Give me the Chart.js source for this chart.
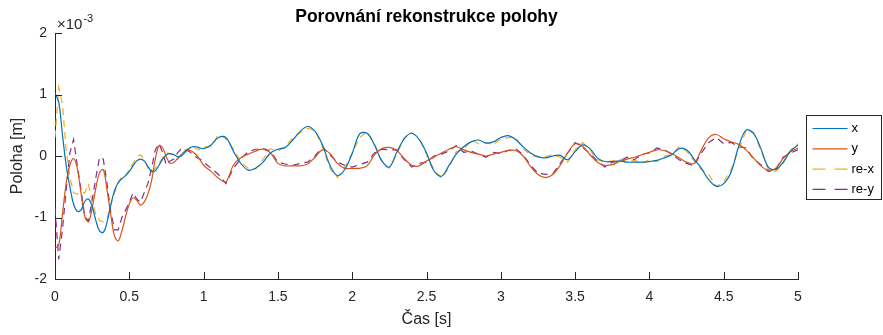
<!DOCTYPE html>
<html lang="cs">
<head>
<meta charset="utf-8">
<title>Porovnání rekonstrukce polohy</title>
<script src="https://cdn.jsdelivr.net/npm/chart.js@4.4.0/dist/chart.umd.min.js"></script>
<style>
  html, body { margin: 0; padding: 0; background: #fff; }
  #graf { display: block; }
</style>
</head>
<body>
<canvas id="graf" width="883" height="335"></canvas>
<script>
// cas [s] - do 1 s jemnejsi krok
const cas = [
  0, 0.025, 0.05, 0.075, 0.1, 0.125, 0.15, 0.175, 0.2, 0.225,
  0.25, 0.275, 0.3, 0.325, 0.35, 0.375, 0.4, 0.425, 0.45, 0.475,
  0.5, 0.525, 0.55, 0.575, 0.6, 0.625, 0.65, 0.675, 0.7, 0.725,
  0.75, 0.775, 0.8, 0.825, 0.85, 0.875, 0.9, 0.925, 0.95, 0.975, 1.0,
  1.05, 1.1, 1.15, 1.2, 1.25, 1.3, 1.35, 1.4, 1.45, 1.5,
  1.55, 1.6, 1.65, 1.7, 1.75, 1.8, 1.85, 1.9, 1.95, 2.0,
  2.05, 2.1, 2.15, 2.2, 2.25, 2.3, 2.35, 2.4, 2.45, 2.5,
  2.55, 2.6, 2.65, 2.7, 2.75, 2.8, 2.85, 2.9, 2.95, 3.0,
  3.05, 3.1, 3.15, 3.2, 3.25, 3.3, 3.35, 3.4, 3.45, 3.5,
  3.55, 3.6, 3.65, 3.7, 3.75, 3.8, 3.85, 3.9, 3.95, 4.0,
  4.05, 4.1, 4.15, 4.2, 4.25, 4.3, 4.35, 4.4, 4.45, 4.5,
  4.55, 4.6, 4.65, 4.7, 4.75, 4.8, 4.85, 4.9, 4.95, 5.0
];

// poloha v [m] x 1e-3
const polohaX = [
  1.02, 0.88, 0.35, -0.15, -0.5, -0.78, -0.9, -0.88, -0.74, -0.70,
  -0.82, -1.05, -1.22, -1.24, -1.08, -0.8, -0.57, -0.43, -0.37, -0.32,
  -0.25, -0.16, -0.08, -0.05, -0.08, -0.17, -0.25, -0.24, -0.15, -0.05,
  0.02, 0.04, 0.02, -0.01, 0.0, 0.06, 0.12, 0.15, 0.15, 0.13, 0.12,
  0.18, 0.3, 0.3, 0.08, -0.12, -0.23, -0.2, -0.1, 0.05, 0.11,
  0.14, 0.26, 0.4, 0.48, 0.4, 0.18, -0.15, -0.32, -0.22, 0.04,
  0.36, 0.37, 0.18, -0.08, -0.18, 0.06, 0.28, 0.37, 0.27, 0.05,
  -0.24, -0.33, -0.16, 0.03, 0.15, 0.23, 0.26, 0.21, 0.23, 0.3,
  0.33, 0.27, 0.15, 0.05, -0.01, -0.03, 0.0, 0.01, -0.06, 0.07,
  0.18, 0.12, -0.03, -0.09, -0.09, -0.08, -0.1, -0.1, -0.1, -0.09,
  -0.07, -0.03, 0.02, 0.12, 0.1, -0.05, -0.2, -0.39, -0.49, -0.45,
  -0.26, 0.15, 0.42, 0.37, 0.12, -0.18, -0.22, -0.1, 0.08, 0.18
];

const polohaY = [
  -1.5, -1.45, -0.95, -0.45, -0.15, -0.04, -0.2, -0.6, -0.98, -1.07,
  -0.85, -0.52, -0.27, -0.22, -0.55, -0.95, -1.3, -1.38, -1.22, -0.98,
  -0.78, -0.68, -0.72, -0.8, -0.75, -0.62, -0.4, -0.05, 0.17, 0.13,
  -0.02, -0.12, -0.1, -0.04, 0.02, 0.08, 0.1, 0.07, 0.02, -0.06, -0.15,
  -0.25, -0.36, -0.42, -0.15, -0.03, 0.03, 0.08, 0.11, 0.05, -0.12,
  -0.16, -0.16, -0.16, -0.13, -0.02, 0.1, 0.04, -0.12, -0.2, -0.2,
  -0.2, -0.16, 0.02, 0.12, 0.14, 0.09, -0.04, -0.15, -0.16, -0.08,
  -0.02, 0.05, 0.11, 0.15, 0.1, 0.06, 0.03, 0.0, 0.03, 0.06,
  0.09, 0.09, 0.0, -0.17, -0.3, -0.35, -0.3, -0.15, 0.05, 0.2,
  0.16, 0.02, -0.1, -0.15, -0.14, -0.09, -0.05, -0.02, 0.02, 0.06,
  0.1, 0.09, 0.04, -0.03, -0.1, -0.12, 0.1, 0.3, 0.35, 0.28,
  0.23, 0.19, 0.1, -0.03, -0.16, -0.23, -0.2, -0.04, 0.07, 0.13
];

// rekonstruovane polohy
const rekonX = [
  0.3, 1.12, 0.85, 0.1, -0.35, -0.6, -0.62, -0.58, -0.6, -0.45,
  -0.75, -0.95, -1.05, -1.07, -1.02, -0.8, -0.6, -0.45, -0.32, -0.32,
  -0.22, -0.12, -0.02, 0.02, -0.05, -0.2, -0.26, -0.2, -0.12, -0.02,
  0.05, 0.04, 0.0, -0.05, 0.02, 0.1, 0.12, 0.17, 0.12, 0.1, 0.15,
  0.15, 0.35, 0.28, 0.12, -0.1, -0.2, -0.21, -0.05, 0.12, 0.08,
  0.16, 0.3, 0.38, 0.45, 0.42, 0.15, -0.2, -0.35, -0.18, 0.05,
  0.3, 0.4, 0.2, -0.1, -0.2, 0.02, 0.3, 0.38, 0.3, 0.02,
  -0.22, -0.36, -0.2, 0.07, 0.1, 0.26, 0.2, 0.22, 0.18, 0.28,
  0.3, 0.3, 0.12, 0.02, -0.02, -0.01, 0.02, -0.02, -0.1, 0.1,
  0.22, 0.1, -0.06, -0.1, -0.08, -0.05, -0.1, -0.07, -0.12, -0.06,
  -0.09, 0.0, 0.02, 0.15, 0.08, -0.08, -0.22, -0.3, -0.5, -0.42,
  -0.22, 0.1, 0.4, 0.38, 0.1, -0.22, -0.25, -0.12, 0.1, 0.2
];

const rekonY = [
  -0.85, -1.68, -1.2, -0.55, 0.05, 0.27, -0.15, -0.55, -0.98, -1.06,
  -0.72, -0.35, -0.02, -0.05, -0.45, -0.9, -1.2, -1.2, -1.0, -0.88,
  -0.75, -0.6, -0.7, -0.75, -0.6, -0.45, -0.2, 0.1, 0.2, 0.05,
  -0.15, -0.08, -0.05, 0.05, 0.12, 0.1, 0.08, 0.03, -0.02, -0.05, -0.1,
  -0.2, -0.3, -0.45, -0.2, -0.05, 0.07, 0.11, 0.12, 0.08, -0.1,
  -0.13, -0.15, -0.12, -0.1, 0.0, 0.15, 0.02, -0.1, -0.15, -0.18,
  -0.14, -0.1, 0.05, 0.11, 0.1, 0.1, -0.06, -0.18, -0.12, -0.1,
  0.0, 0.03, 0.08, 0.17, 0.06, 0.08, 0.03, -0.02, 0.06, 0.04,
  0.09, 0.12, 0.02, -0.15, -0.28, -0.3, -0.29, -0.12, 0.05, 0.22,
  0.14, 0.04, -0.08, -0.18, -0.1, -0.08, -0.02, -0.06, 0.03, 0.05,
  0.13, 0.1, 0.03, -0.06, -0.12, -0.16, 0.05, 0.22, 0.3, 0.2,
  0.22, 0.15, 0.13, -0.05, -0.14, -0.25, -0.22, -0.02, 0.05, 0.1
];

const nazvy = ["x", "y", "re-x", "re-y"];
const barvy = ["#0072BD", "#D95319", "#EDB120", "#7E2F8E"];
const carkovani = [[], [], [7, 5], [7, 5]];
const carkovaniLegenda = [[], [], [13, 9], [13, 9]];

const pismo = "'Liberation Sans', Arial, Helvetica, sans-serif";
const barvaOs = "#262626";

function body(hodnoty) {
  return cas.map((t, i) => ({ x: t, y: hodnoty[i] }));
}

// osy ve stylu matlabu: ticky dovnitr, nadpisy, exponent a legenda vpravo
const matlabOsy = {
  id: "matlabOsy",
  afterDraw(chart) {
    const { ctx, chartArea: a, scales } = chart;
    ctx.save();

    ctx.strokeStyle = barvaOs;
    ctx.lineWidth = 1;
    ctx.setLineDash([]);
    ctx.beginPath();
    scales.x.ticks.forEach(t => {
      const px = Math.round(scales.x.getPixelForValue(t.value)) + 0.5;
      ctx.moveTo(px, a.bottom);
      ctx.lineTo(px, a.bottom - 7);
    });
    scales.y.ticks.forEach(t => {
      const py = Math.round(scales.y.getPixelForValue(t.value)) + 0.5;
      ctx.moveTo(a.left, py);
      ctx.lineTo(a.left + 7, py);
    });
    ctx.stroke();

    const stred = (a.left + a.right) / 2;

    ctx.fillStyle = "#000";
    ctx.font = "bold 17.5px " + pismo;
    ctx.textAlign = "center";
    ctx.textBaseline = "middle";
    ctx.fillText("Porovnání rekonstrukce polohy", stred, 17);

    ctx.fillStyle = barvaOs;
    ctx.font = "16px " + pismo;
    ctx.fillText("Čas [s]", stred, 320);

    ctx.save();
    ctx.translate(18, (a.top + a.bottom) / 2);
    ctx.rotate(-Math.PI / 2);
    ctx.fillText("Poloha [m]", 0, 0);
    ctx.restore();

    // exponent osy y
    ctx.textAlign = "left";
    ctx.textBaseline = "alphabetic";
    ctx.font = "15px " + pismo;
    ctx.fillText("\u00d710", a.left + 2, 29);
    const w = ctx.measureText("\u00d710").width;
    ctx.font = "11px " + pismo;
    ctx.fillText("-3", a.left + 3 + w, 22);

    // legenda
    const lx = 806.5, ly = 115.5, lw = 75, lh = 84;
    ctx.fillStyle = "#fff";
    ctx.fillRect(lx, ly, lw, lh);
    ctx.lineWidth = 1;
    ctx.strokeStyle = barvaOs;
    ctx.strokeRect(lx, ly, lw, lh);
    ctx.font = "13px " + pismo;
    ctx.textBaseline = "middle";
    chart.data.datasets.forEach((ds, i) => {
      const y = ly + 13 + i * 20.3;
      ctx.strokeStyle = ds.borderColor;
      ctx.lineWidth = ds.borderWidth;
      ctx.setLineDash(carkovaniLegenda[i]);
      ctx.beginPath();
      ctx.moveTo(lx + 6, y);
      ctx.lineTo(lx + 41, y);
      ctx.stroke();
      ctx.fillStyle = "#000";
      ctx.fillText(ds.label, lx + 45, y);
    });

    ctx.restore();
  }
};

const ctx = document.getElementById("graf").getContext("2d");

new Chart(ctx, {
  type: "line",
  data: {
    datasets: [polohaX, polohaY, rekonX, rekonY].map((hodnoty, i) => ({
      label: nazvy[i],
      data: body(hodnoty),
      borderColor: barvy[i],
      borderWidth: 1.2,
      borderDash: carkovani[i],
      pointRadius: 0,
      fill: false,
      tension: i < 2 ? 0.35 : 0
    }))
  },
  options: {
    responsive: false,
    animation: false,
    events: [],
    layout: { padding: { top: 33, right: 85, bottom: 0, left: 0 } },
    plugins: {
      legend: { display: false },
      title: { display: false },
      tooltip: { enabled: false }
    },
    scales: {
      x: {
        type: "linear",
        min: 0,
        max: 5,
        afterFit: s => { s.height = 56; },
        grid: { display: false, drawTicks: false },
        border: { display: true, color: barvaOs, width: 1 },
        ticks: {
          stepSize: 0.5,
          padding: 10,
          maxRotation: 0,
          autoSkip: false,
          color: barvaOs,
          font: { family: pismo, size: 14 },
          callback: v => String(Math.round(v * 10) / 10)
        }
      },
      y: {
        type: "linear",
        min: -2,
        max: 2,
        afterFit: s => { s.width = 55; },
        grid: { display: false, drawTicks: false },
        border: { display: true, color: barvaOs, width: 1 },
        ticks: {
          stepSize: 1,
          padding: 8,
          color: barvaOs,
          font: { family: pismo, size: 14 }
        }
      }
    }
  },
  plugins: [matlabOsy]
});
</script>
</body>
</html>
